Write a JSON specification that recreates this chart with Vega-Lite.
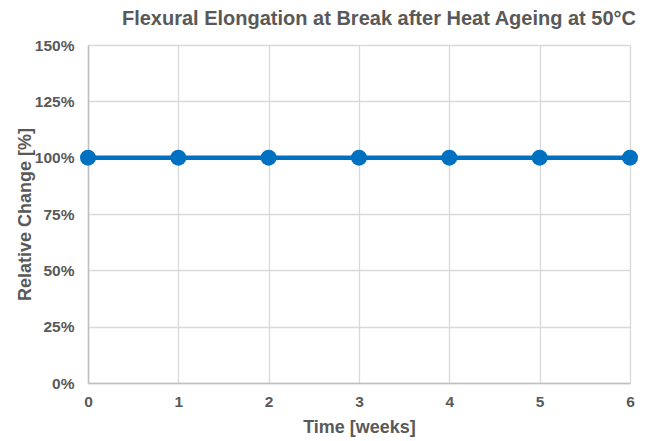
{
  "$schema": "https://vega.github.io/schema/vega-lite/v6.json",
  "width": 542,
  "height": 338,
  "autosize": "none",
  "padding": {"left": 88, "top": 45, "right": 22, "bottom": 58},
  "background": "white",
  "config": {
    "font": "Liberation Sans",
    "view": {"stroke": null}
  },
  "title": {
    "text": "Flexural Elongation at Break after Heat Ageing at 50°C",
    "anchor": "end",
    "dx": -3,
    "offset": 9,
    "fontSize": 20,
    "fontWeight": "bold",
    "color": "#595959",
    "font": "Liberation Sans"
  },
  "data": {
    "values": [
      {"week": 0, "change": 1.0},
      {"week": 1, "change": 1.0},
      {"week": 2, "change": 1.0},
      {"week": 3, "change": 1.0},
      {"week": 4, "change": 1.0},
      {"week": 5, "change": 1.0},
      {"week": 6, "change": 1.0}
    ]
  },
  "mark": {
    "type": "line",
    "color": "#0070C0",
    "strokeWidth": 4.5,
    "point": {"filled": true, "size": 255, "color": "#0070C0", "opacity": 1}
  },
  "encoding": {
    "x": {
      "field": "week",
      "type": "quantitative",
      "scale": {"domain": [0, 6], "nice": false, "zero": true},
      "axis": {
        "title": "Time [weeks]",
        "values": [0, 1, 2, 3, 4, 5, 6],
        "format": "d",
        "grid": true,
        "gridColor": "#d9d9d9",
        "gridWidth": 1.3,
        "domainColor": "#bfbfbf",
        "domainWidth": 1.5,
        "ticks": false,
        "labelFlush": false,
        "labelPadding": 11,
        "labelFontSize": 15.5,
        "labelFontWeight": "bold",
        "labelColor": "#595959",
        "titleFontSize": 18,
        "titleFontWeight": "bold",
        "titleColor": "#595959",
        "titlePadding": 9
      }
    },
    "y": {
      "field": "change",
      "type": "quantitative",
      "scale": {"domain": [0, 1.5], "nice": false},
      "axis": {
        "title": "Relative Change [%]",
        "values": [0, 0.25, 0.5, 0.75, 1.0, 1.25, 1.5],
        "format": ".0%",
        "grid": true,
        "gridColor": "#d9d9d9",
        "gridWidth": 1.3,
        "domainColor": "#bfbfbf",
        "domainWidth": 1.5,
        "ticks": false,
        "labelFlush": false,
        "labelPadding": 14,
        "labelFontSize": 15.5,
        "labelFontWeight": "bold",
        "labelColor": "#595959",
        "titleFontSize": 18,
        "titleFontWeight": "bold",
        "titleColor": "#595959",
        "titlePadding": 0
      }
    }
  }
}
